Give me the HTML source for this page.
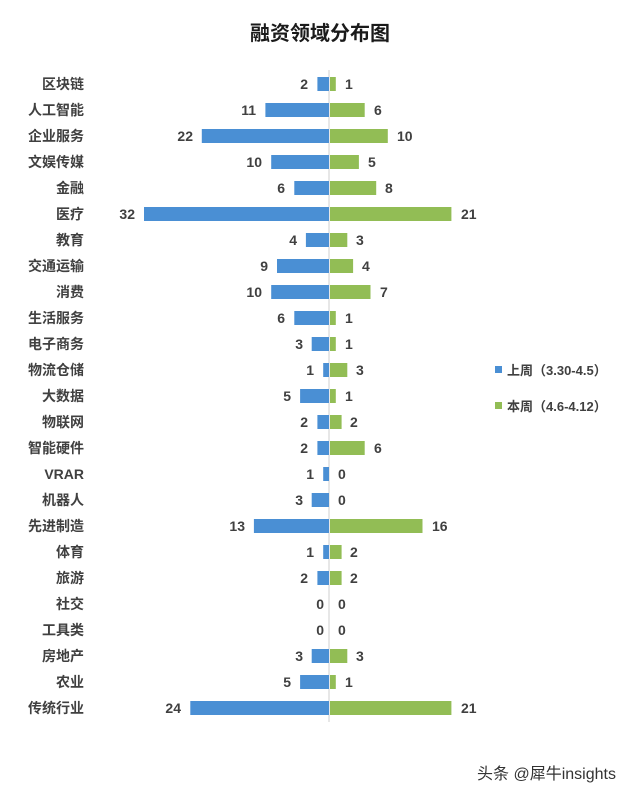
<!DOCTYPE html>
<html><head><meta charset="utf-8"><style>
html,body{margin:0;padding:0;background:#fff;}
svg text{font-family:"Liberation Sans","Noto Sans CJK SC",sans-serif;font-weight:bold;fill:#404040;}
</style></head><body>
<svg width="640" height="796" xmlns="http://www.w3.org/2000/svg">
<rect width="640" height="796" fill="#fff"/>
<text x="320" y="40" text-anchor="middle" font-size="20" style="fill:#1a1a1a">融资领域分布图</text>
<line x1="329" y1="70" x2="329" y2="722" stroke="#cfcfcf" stroke-width="1"/>
<g font-size="14">
<g text-anchor="end">
<text x="84" y="89">区块链</text><text x="84" y="115">人工智能</text><text x="84" y="141">企业服务</text><text x="84" y="167">文娱传媒</text><text x="84" y="193">金融</text><text x="84" y="219">医疗</text><text x="84" y="245">教育</text><text x="84" y="271">交通运输</text><text x="84" y="297">消费</text><text x="84" y="323">生活服务</text><text x="84" y="349">电子商务</text><text x="84" y="375">物流仓储</text><text x="84" y="401">大数据</text><text x="84" y="427">物联网</text><text x="84" y="453">智能硬件</text><text x="84" y="479">VRAR</text><text x="84" y="505">机器人</text><text x="84" y="531">先进制造</text><text x="84" y="557">体育</text><text x="84" y="583">旅游</text><text x="84" y="609">社交</text><text x="84" y="635">工具类</text><text x="84" y="661">房地产</text><text x="84" y="687">农业</text><text x="84" y="713">传统行业</text>
</g>
<g fill="#4a8fd4">
<rect x="317.4" y="77" width="11.6" height="14"/>
<rect x="265.4" y="103" width="63.6" height="14"/>
<rect x="201.8" y="129" width="127.2" height="14"/>
<rect x="271.2" y="155" width="57.8" height="14"/>
<rect x="294.3" y="181" width="34.7" height="14"/>
<rect x="144" y="207" width="185" height="14"/>
<rect x="305.9" y="233" width="23.1" height="14"/>
<rect x="277" y="259" width="52" height="14"/>
<rect x="271.2" y="285" width="57.8" height="14"/>
<rect x="294.3" y="311" width="34.7" height="14"/>
<rect x="311.7" y="337" width="17.3" height="14"/>
<rect x="323.2" y="363" width="5.8" height="14"/>
<rect x="300.1" y="389" width="28.9" height="14"/>
<rect x="317.4" y="415" width="11.6" height="14"/>
<rect x="317.4" y="441" width="11.6" height="14"/>
<rect x="323.2" y="467" width="5.8" height="14"/>
<rect x="311.7" y="493" width="17.3" height="14"/>
<rect x="253.9" y="519" width="75.1" height="14"/>
<rect x="323.2" y="545" width="5.8" height="14"/>
<rect x="317.4" y="571" width="11.6" height="14"/>
<rect x="311.7" y="649" width="17.3" height="14"/>
<rect x="300.1" y="675" width="28.9" height="14"/>
<rect x="190.3" y="701" width="138.7" height="14"/>
</g>
<g fill="#92bd55">
<rect x="330" y="77" width="5.8" height="14"/>
<rect x="330" y="103" width="34.7" height="14"/>
<rect x="330" y="129" width="57.8" height="14"/>
<rect x="330" y="155" width="28.9" height="14"/>
<rect x="330" y="181" width="46.2" height="14"/>
<rect x="330" y="207" width="121.4" height="14"/>
<rect x="330" y="233" width="17.3" height="14"/>
<rect x="330" y="259" width="23.1" height="14"/>
<rect x="330" y="285" width="40.5" height="14"/>
<rect x="330" y="311" width="5.8" height="14"/>
<rect x="330" y="337" width="5.8" height="14"/>
<rect x="330" y="363" width="17.3" height="14"/>
<rect x="330" y="389" width="5.8" height="14"/>
<rect x="330" y="415" width="11.6" height="14"/>
<rect x="330" y="441" width="34.7" height="14"/>
<rect x="330" y="519" width="92.5" height="14"/>
<rect x="330" y="545" width="11.6" height="14"/>
<rect x="330" y="571" width="11.6" height="14"/>
<rect x="330" y="649" width="17.3" height="14"/>
<rect x="330" y="675" width="5.8" height="14"/>
<rect x="330" y="701" width="121.4" height="14"/>
</g>
<g text-anchor="end">
<text x="308" y="89">2</text><text x="256" y="115">11</text><text x="193" y="141">22</text><text x="262" y="167">10</text><text x="285" y="193">6</text><text x="135" y="219">32</text><text x="297" y="245">4</text><text x="268" y="271">9</text><text x="262" y="297">10</text><text x="285" y="323">6</text><text x="303" y="349">3</text><text x="314" y="375">1</text><text x="291" y="401">5</text><text x="308" y="427">2</text><text x="308" y="453">2</text><text x="314" y="479">1</text><text x="303" y="505">3</text><text x="245" y="531">13</text><text x="314" y="557">1</text><text x="308" y="583">2</text><text x="324" y="609">0</text><text x="324" y="635">0</text><text x="303" y="661">3</text><text x="291" y="687">5</text><text x="181" y="713">24</text>
</g>
<g>
<text x="345" y="89">1</text><text x="374" y="115">6</text><text x="397" y="141">10</text><text x="368" y="167">5</text><text x="385" y="193">8</text><text x="461" y="219">21</text><text x="356" y="245">3</text><text x="362" y="271">4</text><text x="380" y="297">7</text><text x="345" y="323">1</text><text x="345" y="349">1</text><text x="356" y="375">3</text><text x="345" y="401">1</text><text x="350" y="427">2</text><text x="374" y="453">6</text><text x="338" y="479">0</text><text x="338" y="505">0</text><text x="432" y="531">16</text><text x="350" y="557">2</text><text x="350" y="583">2</text><text x="338" y="609">0</text><text x="338" y="635">0</text><text x="356" y="661">3</text><text x="345" y="687">1</text><text x="461" y="713">21</text>
</g>
</g>
<rect x="495" y="366" width="7" height="7" fill="#4a8fd4"/>
<text x="507" y="375" font-size="13">上周（3.30-4.5）</text>
<rect x="495" y="402" width="7" height="7" fill="#92bd55"/>
<text x="507" y="411" font-size="13">本周（4.6-4.12）</text>
<text x="477" y="779" font-size="16" style="font-weight:normal;fill:#333">头条 @犀牛insights</text>
</svg>
</body></html>
